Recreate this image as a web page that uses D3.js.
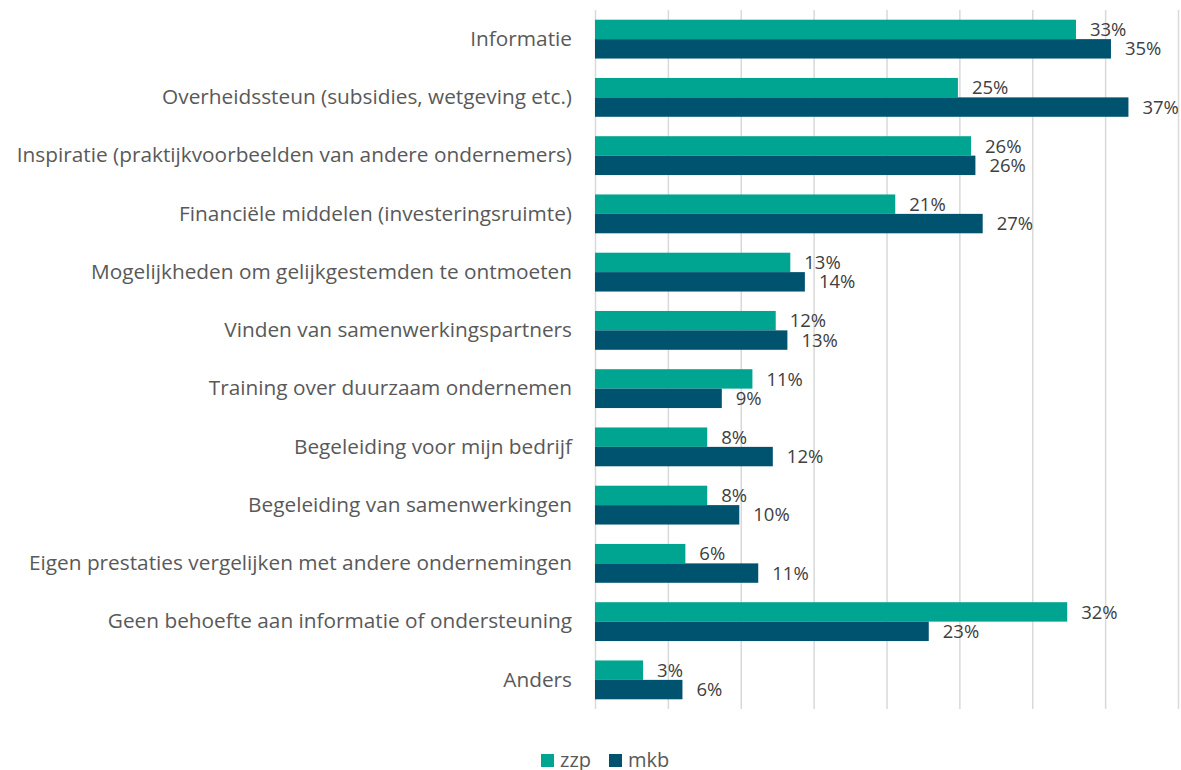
<!DOCTYPE html>
<html><head><meta charset="utf-8">
<script src="https://cdn.jsdelivr.net/npm/d3@7"></script>
<style>
html,body{margin:0;padding:0;background:#fff;}
svg{display:block;font-family:"Open Sans",sans-serif;}
</style></head>
<body>
<svg id="chart" width="1181" height="770"></svg>
<script>
const categories = [
  "Informatie",
  "Overheidssteun (subsidies, wetgeving etc.)",
  "Inspiratie (praktijkvoorbeelden van andere ondernemers)",
  "Financiële middelen (investeringsruimte)",
  "Mogelijkheden om gelijkgestemden te ontmoeten",
  "Vinden van samenwerkingspartners",
  "Training over duurzaam ondernemen",
  "Begeleiding voor mijn bedrijf",
  "Begeleiding van samenwerkingen",
  "Eigen prestaties vergelijken met andere ondernemingen",
  "Geen behoefte aan informatie of ondersteuning",
  "Anders"
];
const seriesNames = ["zzp", "mkb"];
const zzp = [33.0, 24.9, 25.8, 20.6, 13.4, 12.4, 10.8, 7.7, 7.7, 6.2, 32.4, 3.3];
const mkb = [35.4, 36.6, 26.1, 26.6, 14.4, 13.2, 8.7, 12.2, 9.9, 11.2, 22.9, 6.0];
const xTicks = [0, 5, 10, 15, 20, 25, 30, 35, 40];

(function () {
const colors = {zzp: "#00A591", mkb: "#00536F"};
const svg = d3.select("#chart");
const pLeft = 595, pRight = 1178, pTop = 10, pBottom = 709;

const x = d3.scaleLinear().domain([0, 40]).range([pLeft, pRight]);
const y = d3.scaleBand().domain(categories).range([pTop, pBottom]).paddingInner(1/3).paddingOuter(1/6);
const ySub = d3.scaleBand().domain(seriesNames).range([0, y.bandwidth()]);

// gridlines
svg.append("g")
  .attr("transform", `translate(0,${pBottom})`)
  .call(d3.axisBottom(x).tickValues(xTicks).tickSize(-(pBottom - pTop)).tickFormat(""))
  .call(g => g.select(".domain").remove())
  .call(g => g.selectAll(".tick line").attr("stroke", "#D9D9D9").attr("stroke-width", 1.5));

// category labels
svg.append("g")
  .attr("transform", `translate(${pLeft},0)`)
  .call(d3.axisLeft(y).tickSize(0).tickPadding(23))
  .call(g => g.select(".domain").remove())
  .call(g => g.selectAll("text").attr("font-size", 20.8).attr("fill", "#595959").attr("font-family", "'Open Sans', sans-serif"));

const rows = categories.map((c, i) => ({cat: c, zzp: zzp[i], mkb: mkb[i]}));
const fmt = d3.format(".0f");

const groups = svg.append("g").selectAll("g").data(rows).join("g")
  .attr("transform", d => `translate(0,${y(d.cat)})`);

groups.selectAll("rect").data(d => seriesNames.map(s => ({s, v: d[s]}))).join("rect")
  .attr("x", x(0))
  .attr("y", d => ySub(d.s))
  .attr("width", d => x(d.v) - x(0))
  .attr("height", ySub.bandwidth())
  .attr("fill", d => colors[d.s]);

groups.selectAll("text").data(d => seriesNames.map(s => ({s, v: d[s]}))).join("text")
  .attr("x", d => x(d.v) + 14)
  .attr("y", d => ySub(d.s) + ySub.bandwidth() / 2)
  .attr("dy", "0.36em")
  .attr("font-size", 18.5)
  .attr("fill", "#404040")
  .text(d => fmt(d.v) + "%");

// legend
const legend = svg.append("g").attr("transform", "translate(541,754)");
const lx = [0, 68];
seriesNames.forEach((s, i) => {
  legend.append("rect").attr("x", lx[i]).attr("y", 0).attr("width", 13).attr("height", 13).attr("fill", colors[s]);
  legend.append("text").attr("x", lx[i] + 19).attr("y", 12.5).attr("font-size", 20).attr("fill", "#595959").text(s);
});
})();
</script>
</body></html>
